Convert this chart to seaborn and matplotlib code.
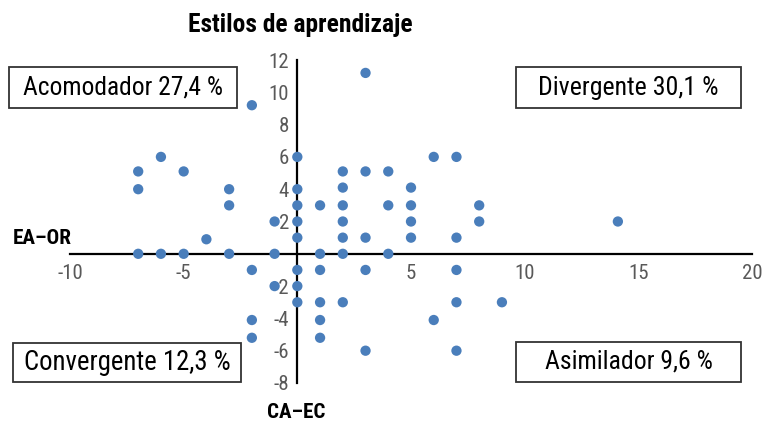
import matplotlib
matplotlib.use("Agg")
import matplotlib.pyplot as plt
from matplotlib import font_manager
from matplotlib.font_manager import FontProperties
from matplotlib.patches import Rectangle
import seaborn as sns
import pandas as pd

# ---- data ----
x_vals = [-2, -6, -7, -5, -7, -3, -3, -1, -4,
          -7, -6, -5, -3, -1,
          0, 0, 0, 0, 0, 0, 0, 0,
          3, 6, 7, 2, 3, 4, 2, 5, 1, 2, 4, 5, 8, 2, 5, 8, 14.1, 2, 3, 5, 7, 1, 2, 4,
          -2, -1, -2, -2, 1, 3, 7, 1, 2, 7, 9, 1, 6, 1, 3, 7]
y_vals = [9.2, 6, 5.1, 5.1, 4, 4, 3, 2, 0.9,
          0, 0, 0, 0, 0,
          6, 4, 3, 2, 1, -1, -2, -3,
          11.2, 6, 6, 5.1, 5.1, 5.1, 4.1, 4.1, 3, 3, 3, 3, 3, 2, 2, 2, 2, 1, 1, 1, 1, 0, 0, 0,
          -1, -2, -4.1, -5.2, -1, -1, -1, -3, -3, -3, -3, -4.1, -4.1, -5.2, -6, -6]
x_ticks = [-10, -5, 5, 10, 15, 20]
y_ticks = [-8, -6, -4, -2, 2, 4, 6, 8, 10, 12]
title = "Estilos de aprendizaje"
x_label = "CA–EC"
y_label = "EA–OR"
quadrant_labels = ["Acomodador 27,4 %", "Divergente 30,1 %",
                   "Convergente 12,3 %", "Asimilador 9,6 %"]

df = pd.DataFrame({"x": x_vals, "y": y_vals})

sns.set_theme(style="white")

# ---- pick a condensed sans font if one is installed ----
def find_font(bold):
    prefs = ["Liberation Sans Narrow", "Roboto Condensed", "Open Sans Condensed",
             "DejaVu Sans Condensed", "Noto Sans Condensed", "Noto Sans SemiCondensed"]
    cands = []
    for f in font_manager.fontManager.ttflist:
        nm = f.name
        fn = f.fname.lower()
        is_cond = ("narrow" in nm.lower() or "condensed" in nm.lower()
                   or "condensed" in fn or "narrow" in fn
                   or str(f.stretch) in ("condensed", "semi-condensed", "extra-condensed"))
        if not is_cond or "mono" in fn or "serif" in fn and "sans" not in fn:
            continue
        if "italic" in fn or "oblique" in fn or f.style != "normal":
            continue
        w = f.weight if isinstance(f.weight, int) else (700 if "bold" in str(f.weight) else 400)
        if bold and w < 600:
            continue
        if not bold and w != 400:
            continue
        if "extra" in fn or "semi" in fn and "semibold" not in fn:
            rank_ext = 1
        else:
            rank_ext = 0
        rank = next((i for i, p in enumerate(prefs) if p.lower() in (nm.lower() + " " + fn)), 50)
        if "dejavu" in fn:
            rank = min(rank, 3)
        if "roboto" in fn:
            rank = min(rank, 1)
        cands.append((rank, rank_ext, abs(w - (700 if bold else 400)), f.fname))
    cands.sort()
    if cands:
        return FontProperties(fname=cands[0][3])
    return FontProperties(family="Liberation Sans", weight="bold" if bold else "normal")

fp_reg = find_font(False)
fp_bold = find_font(True)

W, H = 763, 424
fig = plt.figure(figsize=(W / 100, H / 100), dpi=100)
ax = fig.add_axes([70 / W, 1 - 383 / H, (752 - 70) / W, (383 - 60) / H])

sns.scatterplot(data=df, x="x", y="y", ax=ax, color="#4a7ebb", s=55,
                edgecolor="none", linewidth=0, zorder=3, clip_on=False)

ax.set_xlim(-10, 20)
ax.set_ylim(-8, 12)
for s in ["top", "right"]:
    ax.spines[s].set_visible(False)
for s in ["left", "bottom"]:
    ax.spines[s].set_position(("data", 0))
    ax.spines[s].set_color("black")
    ax.spines[s].set_linewidth(1.6)
    ax.spines[s].set_zorder(2)
ax.set_xticks(x_ticks)
ax.set_yticks(y_ticks)
ax.set_xticklabels([str(v) for v in x_ticks])
ax.set_yticklabels([str(v) for v in y_ticks])
ax.tick_params(axis="both", direction="out", length=4, width=1.3, color="black",
               labelcolor="#595959", pad=2)
ax.tick_params(axis="x", pad=3)
for lab in ax.get_xticklabels() + ax.get_yticklabels():
    lab.set_fontproperties(fp_reg)
    lab.set_fontsize(15)
ax.set_xlabel("")
ax.set_ylabel("")
ax.grid(False)

texts = []
t = fig.text(300 / W, 1 - 25 / H, title, ha="center", va="center",
             fontproperties=fp_bold, color="black")
texts.append((t, 225, 19))
t = fig.text(13 / W, 1 - 238 / H, y_label, ha="left", va="center",
             fontproperties=fp_bold, color="black")
texts.append((t, 59, 16))
t = fig.text(296 / W, 1 - 412 / H, x_label, ha="center", va="center",
             fontproperties=fp_bold, color="black")
texts.append((t, 58, 16))

boxes = [(9, 67, 237, 108), (516, 67, 741, 108), (13, 343, 241, 382), (516, 342, 741, 382)]
box_text_w = [200, 180, 207, 168]
for (x0, y0, x1, y1), lab, tw in zip(boxes, quadrant_labels, box_text_w):
    fig.patches.append(Rectangle((x0 / W, 1 - y1 / H), (x1 - x0) / W, (y1 - y0) / H,
                                 transform=fig.transFigure, facecolor="white",
                                 edgecolor="#333333", linewidth=1.3))
    t = fig.text((x0 + x1) / 2 / W, 1 - (y0 + y1) / 2 / H, lab, ha="center", va="center",
                 fontproperties=fp_reg, color="black")
    texts.append((t, tw, 19))

# fit each text's size so its width matches the reference
fig.canvas.draw()
r = fig.canvas.get_renderer()
for t, target, maxsize in texts:
    t.set_fontsize(maxsize)
    w = t.get_window_extent(r).width
    t.set_fontsize(min(maxsize * 1.1, maxsize * target / w))

fig.savefig("out.png", dpi=100)
